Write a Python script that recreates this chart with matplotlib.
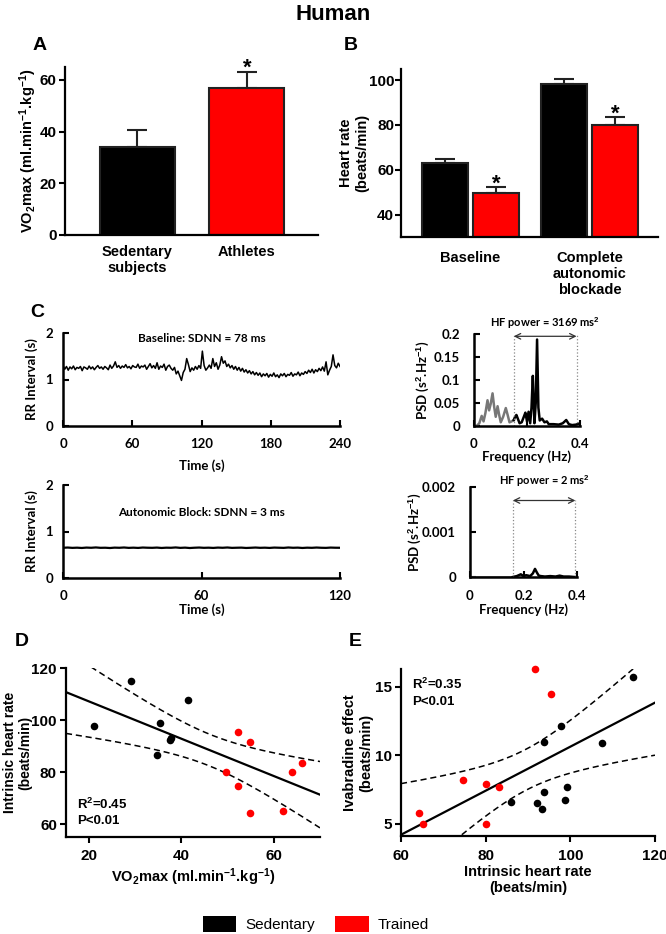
import numpy as np
import matplotlib
matplotlib.use('Agg')
import matplotlib.pyplot as plt
from matplotlib.patches import Patch

# ---------------- data ----------------
title = "Human"
BLACK = "#000000"
RED = "#FF0000"

# Panel A
vo2_groups = ["Sedentary\nsubjects", "Athletes"]
vo2_mean = [34.0, 56.9]
vo2_sem = [6.7, 6.0]
vo2_sig = [False, True]

# Panel B
hr_groups = ["Baseline", "Complete\nautonomic\nblockade"]
hr_sed = [62.9, 98.2]
hr_sed_sem = [1.9, 2.2]
hr_tr = [49.6, 79.8]
hr_tr_sem = [2.9, 3.7]

# Panel C - RR tachograms
base_rr = [
    1.30, 1.22, 1.28, 1.20, 1.27, 1.23, 1.29, 1.21, 1.26, 1.24,
    1.28, 1.19, 1.27, 1.25, 1.22, 1.29, 1.23, 1.27, 1.21, 1.26,
    1.30, 1.24, 1.27, 1.22, 1.28, 1.25, 1.21, 1.31, 1.24, 1.29,
    1.38, 1.26, 1.30, 1.24, 1.29, 1.26, 1.32, 1.25, 1.28, 1.23,
    1.30, 1.27, 1.26, 1.33, 1.24, 1.29, 1.27, 1.31, 1.22, 1.28,
    1.34, 1.25, 1.30, 1.24, 1.36, 1.22, 1.29, 1.26, 1.33, 1.20,
    1.28, 1.31, 1.24, 1.20, 1.26, 1.12, 1.18, 1.08, 0.98, 1.15,
    1.22, 1.45, 1.32, 1.17, 1.25, 1.20, 1.28, 1.22, 1.30, 1.24,
    1.61, 1.30, 1.20, 1.25, 1.31, 1.24, 1.45, 1.28, 1.36, 1.22,
    1.31, 1.49, 1.35, 1.40, 1.28, 1.33, 1.25, 1.30, 1.22, 1.28,
    1.20, 1.26, 1.18, 1.24, 1.16, 1.21, 1.14, 1.19, 1.12, 1.17,
    1.10, 1.15, 1.09, 1.14, 1.06, 1.12, 1.08, 1.13, 1.05, 1.11,
    1.07, 1.14, 1.06, 1.10, 1.04, 1.12, 1.08, 1.13, 1.06, 1.11,
    1.09, 1.15, 1.07, 1.12, 1.10, 1.16, 1.08, 1.14, 1.11, 1.17,
    1.13, 1.20, 1.15, 1.22, 1.14, 1.21, 1.17, 1.24, 1.19, 1.27,
    1.18, 1.38, 1.10, 1.20, 1.28, 1.53, 1.30, 1.25, 1.35, 1.28,
]
base_duration = 240
block_rr = [
    0.650, 0.655, 0.648, 0.652, 0.646, 0.654, 0.650, 0.657, 0.649, 0.651,
    0.645, 0.653, 0.650, 0.656, 0.648, 0.652, 0.647, 0.655, 0.651, 0.649,
    0.654, 0.646, 0.652, 0.650, 0.657, 0.648, 0.653, 0.645, 0.651, 0.655,
    0.649, 0.652, 0.647, 0.654, 0.650, 0.656, 0.648, 0.651, 0.653, 0.646,
    0.650, 0.655, 0.649, 0.652, 0.647, 0.654, 0.651, 0.648, 0.656, 0.650,
    0.653, 0.646, 0.652, 0.649, 0.655, 0.650, 0.648, 0.654, 0.651, 0.650,
]
block_duration = 120
base_text = "Baseline: SDNN = 78 ms"
block_text = "Autonomic Block: SDNN = 3 ms"

# Panel C - power spectra
lf_freq = [0.000, 0.010, 0.020, 0.029, 0.036, 0.043, 0.051, 0.057, 0.063, 0.070,
           0.076, 0.082, 0.089, 0.095, 0.101, 0.110, 0.120, 0.127, 0.134, 0.142, 0.150]
lf_psd = [0.000, 0.000, 0.006, 0.022, 0.010, 0.028, 0.056, 0.034, 0.048, 0.071,
          0.042, 0.020, 0.043, 0.024, 0.008, 0.020, 0.039, 0.024, 0.008, 0.010, 0.013]
hf_freq = [0.150, 0.155, 0.160, 0.166, 0.172, 0.180, 0.188, 0.194, 0.200, 0.206,
           0.212, 0.217, 0.222, 0.228, 0.233, 0.238, 0.243, 0.248, 0.257, 0.266,
           0.275, 0.282, 0.300, 0.320, 0.335, 0.348, 0.358, 0.370, 0.385, 0.400]
hf_psd = [0.013, 0.020, 0.024, 0.015, 0.006, 0.008, 0.020, 0.029, 0.010, 0.031,
          0.006, 0.040, 0.109, 0.006, 0.050, 0.188, 0.040, 0.012, 0.016, 0.008,
          0.010, 0.004, 0.004, 0.003, 0.006, 0.013, 0.004, 0.002, 0.003, 0.006]
lf2_freq = [0.000, 0.160]
lf2_psd = [0.0, 0.0]
hf2_freq = [0.160, 0.175, 0.190, 0.200, 0.210, 0.225, 0.235, 0.243, 0.250, 0.257,
            0.265, 0.280, 0.300, 0.320, 0.335, 0.350, 0.370, 0.390, 0.400]
hf2_psd = [0.0, 0.00002, 0.00006, 0.00002, 0.00004, 0.00002, 0.00008, 0.00018, 0.00010, 0.00003,
           0.00002, 0.00001, 0.00002, 0.00001, 0.00003, 0.00001, 0.00001, 0.0, 0.0]
hf_band_top = (0.150, 0.387)
hf_band_bot = (0.160, 0.394)
hf_text_top = "HF power = 3169 ms$^2$"
hf_text_bot = "HF power = 2 ms$^2$"
psd_top_ticks = [0, 0.05, 0.1, 0.15, 0.2]
psd_top_labels = ["0", "0.05", "0.1", "0.15", "0.2"]
psd_bot_ticks = [0, 0.001, 0.002]
psd_bot_labels = ["0", "0.001", "0.002"]

# Panel D
d_sed_x = [21.1, 29.1, 35.3, 34.8, 37.5, 37.8, 41.4]
d_sed_y = [97.8, 115.1, 98.7, 86.4, 92.2, 93.2, 107.5]
d_tr_x = [52.2, 54.8, 49.6, 52.2, 54.8, 62.0, 64.0, 66.0]
d_tr_y = [95.5, 91.7, 80.1, 74.6, 64.3, 65.0, 80.0, 83.3]
d_stats = "R$^2$=0.45\nP<0.01"

# Panel E
e_sed_x = [114.9, 97.7, 93.8, 107.4, 86.1, 92.2, 93.2, 93.8, 98.7, 99.3]
e_sed_y = [15.7, 12.1, 10.95, 10.9, 6.6, 6.5, 6.1, 7.3, 6.7, 7.7]
e_tr_x = [91.6, 95.4, 74.6, 80.0, 83.1, 64.3, 65.1, 80.0]
e_tr_y = [16.3, 14.45, 8.2, 7.9, 7.7, 5.8, 5.0, 5.0]
e_stats = "R$^2$=0.35\nP<0.01"

legend_labels = ["Sedentary", "Trained"]

# ---------------- style ----------------
plt.rcParams['font.family'] = ['Liberation Sans', 'DejaVu Sans']
plt.rcParams['font.weight'] = 'bold'
plt.rcParams['axes.labelweight'] = 'bold'
plt.rcParams['mathtext.fontset'] = 'custom'
plt.rcParams['mathtext.rm'] = 'Liberation Sans:bold'
plt.rcParams['mathtext.bf'] = 'Liberation Sans:bold'
plt.rcParams['mathtext.it'] = 'Liberation Sans:bold'
plt.rcParams['mathtext.default'] = 'bf'
plt.rcParams['axes.linewidth'] = 1.6

W, H = 666, 934
fig = plt.figure(figsize=(W / 100, H / 100), dpi=100)


def add_ax(x0, x1, y0, y1):
    return fig.add_axes([x0 / W, 1 - y1 / H, (x1 - x0) / W, (y1 - y0) / H])


def prism(ax):
    for s in ['top', 'right']:
        ax.spines[s].set_visible(False)


def label_at(ax, which, fx, fy):
    if which == 'x':
        ax.xaxis.set_label_coords(fx, fy)
        ax.xaxis.label.set_va('center')
    else:
        ax.yaxis.set_label_coords(fx, fy)
        ax.yaxis.label.set_va('center')


fig.text(333 / W, 1 - 14 / H, title, ha='center', va='center', fontsize=16, fontweight='bold')
for letter, (px, py) in zip("ABCDE", [(40, 45), (351, 45), (37, 312), (22, 642), (355, 642)]):
    fig.text(px / W, 1 - py / H, letter, ha='center', va='center', fontsize=14, fontweight='bold')

# ---------------- Panel A ----------------
axA = add_ax(65, 318, 67, 235)
xa = np.arange(len(vo2_groups))
axA.bar(xa, vo2_mean, width=0.685, color=[BLACK, RED], edgecolor='#222222', linewidth=1.5, zorder=2)
axA.errorbar(xa, vo2_mean, yerr=[np.zeros(len(xa)), vo2_sem], fmt='none', ecolor='#222222',
             elinewidth=1.5, capsize=7, capthick=1.5, zorder=1)
for i, sig in enumerate(vo2_sig):
    if sig:
        axA.annotate('*', (xa[i], vo2_mean[i] + vo2_sem[i]), xytext=(0, -1), textcoords='offset points',
                     ha='center', va='baseline', fontsize=16, fontweight='bold', annotation_clip=False)
prism(axA)
axA.set_xlim(-0.66, 1.65)
axA.set_ylim(0, 65)
axA.set_yticks([0, 20, 40, 60])
axA.set_xticks(xa)
axA.set_xticklabels(vo2_groups)
axA.tick_params(axis='y', length=4, width=1.5, pad=2, labelsize=11)
axA.tick_params(axis='x', length=0, pad=7, labelsize=10.5)
axA.set_ylabel("VO$_2$max (ml.min$^{-1}$.kg$^{-1}$)", fontsize=10.5)
label_at(axA, 'y', -0.146, 0.5)

# ---------------- Panel B ----------------
axB = add_ax(401, 658, 69, 237)
xb = np.arange(len(hr_groups))
off = 0.214
bw = 0.385
axB.bar(xb - off, hr_sed, width=bw, color=BLACK, edgecolor='#222222', linewidth=1.5, zorder=2)
axB.bar(xb + off, hr_tr, width=bw, color=RED, edgecolor='#222222', linewidth=1.5, zorder=2)
axB.errorbar(xb - off, hr_sed, yerr=[np.zeros(len(xb)), hr_sed_sem], fmt='none', ecolor='#222222',
             elinewidth=1.5, capsize=7, capthick=1.5, zorder=1)
axB.errorbar(xb + off, hr_tr, yerr=[np.zeros(len(xb)), hr_tr_sem], fmt='none', ecolor='#222222',
             elinewidth=1.5, capsize=7, capthick=1.5, zorder=1)
for i in range(len(xb)):
    axB.annotate('*', (xb[i] + off, hr_tr[i] + hr_tr_sem[i]), xytext=(0, -2), textcoords='offset points',
                 ha='center', va='baseline', fontsize=16, fontweight='bold', annotation_clip=False)
prism(axB)
axB.set_xlim(-0.584, 1.576)
axB.set_ylim(30, 105)
axB.set_yticks([40, 60, 80, 100])
axB.set_xticks(xb)
axB.set_xticklabels(hr_groups)
axB.tick_params(axis='y', length=4, width=1.5, pad=1, labelsize=11)
axB.tick_params(axis='x', length=0, pad=10, labelsize=10.5)
axB.set_ylabel("Heart rate\n(beats/min)", fontsize=10.5)
label_at(axB, 'y', -0.183, 0.5)

# ---------------- Panel C ----------------
CFONT = ['Lato', 'DejaVu Sans']


def style_c(ax, xpad=9, ypad=7):
    prism(ax)
    ax.spines['left'].set_linewidth(1.8)
    ax.spines['bottom'].set_linewidth(1.8)
    ax.tick_params(direction='in', length=4, width=1.5, labelsize=9.5)
    ax.tick_params(axis='x', pad=xpad)
    ax.tick_params(axis='y', pad=ypad)
    for lbl in ax.get_xticklabels() + ax.get_yticklabels():
        lbl.set_fontfamily(CFONT)
        lbl.set_fontweight('bold')


# top RR trace
axC1 = add_ax(63, 340, 333, 426)
t_base = np.linspace(0, base_duration, len(base_rr))
axC1.plot(t_base, base_rr, color='black', lw=1.1)
axC1.set_xlim(0, base_duration)
axC1.set_ylim(0, 2)
axC1.set_xticks([0, 60, 120, 180, 240])
axC1.set_yticks([0, 1, 2])
style_c(axC1)
axC1.text(0.5, 0.946, base_text, transform=axC1.transAxes, ha='center', va='center',
          fontsize=8.5, fontweight='bold', family=CFONT)
axC1.set_xlabel("Time (s)", fontsize=9.5, family=CFONT)
axC1.set_ylabel("RR Interval (s)", fontsize=9.5, family=CFONT)
label_at(axC1, 'x', 0.5, -0.43)
label_at(axC1, 'y', -0.112, 0.5)

# bottom RR trace
axC3 = add_ax(63, 340, 485, 578)
t_block = np.linspace(0, block_duration, len(block_rr))
axC3.plot(t_block, block_rr, color='black', lw=1.6)
axC3.set_xlim(0, block_duration)
axC3.set_ylim(0, 2)
axC3.set_xticks([0, 60, 120])
axC3.set_yticks([0, 1, 2])
style_c(axC3)
axC3.text(0.5, 0.70, block_text, transform=axC3.transAxes, ha='center', va='center',
          fontsize=8.5, fontweight='bold', family=CFONT)
axC3.set_xlabel("Time (s)", fontsize=9.5, family=CFONT)
axC3.set_ylabel("RR Interval (s)", fontsize=9.5, family=CFONT)
label_at(axC3, 'x', 0.5, -0.34)
label_at(axC3, 'y', -0.112, 0.5)

# top PSD
axC2 = add_ax(474, 580, 334, 426)
axC2.plot(lf_freq, lf_psd, color='#777777', lw=1.8)
axC2.plot(hf_freq, hf_psd, color='black', lw=1.8)
axC2.set_xlim(0, 0.4)
axC2.set_ylim(0, 0.2)
axC2.set_xticks([0, 0.2, 0.4])
axC2.set_xticklabels(["0", "0.2", "0.4"])
axC2.set_yticks(psd_top_ticks)
axC2.set_yticklabels(psd_top_labels)
style_c(axC2, xpad=9, ypad=10)
axC2.vlines(hf_band_top, 0, 0.197, colors='#888888', linestyles=':', lw=0.9, clip_on=False)
axC2.annotate('', xy=(hf_band_top[0], 0.195), xytext=(hf_band_top[1], 0.195),
              arrowprops=dict(arrowstyle='<->', lw=0.9, color='#333333', shrinkA=0, shrinkB=0),
              annotation_clip=False)
axC2.text(sum(hf_band_top) / 2, 0.207, hf_text_top, ha='center', va='bottom', fontsize=8,
          fontweight='bold', family=CFONT, clip_on=False)
axC2.set_xlabel("Frequency (Hz)", fontsize=9.5, family=CFONT)
axC2.set_ylabel("PSD (s$^2$.Hz$^{-1}$)", fontsize=9.5, family=CFONT)
label_at(axC2, 'x', 0.5, -0.33)
label_at(axC2, 'y', -0.48, 0.5)

# bottom PSD
axC4 = add_ax(470, 577, 487, 577)
axC4.plot(lf2_freq, lf2_psd, color='#777777', lw=1.8)
axC4.plot(hf2_freq, hf2_psd, color='black', lw=1.8)
axC4.set_xlim(0, 0.4)
axC4.set_ylim(0, 0.002)
axC4.set_xticks([0, 0.2, 0.4])
axC4.set_xticklabels(["0", "0.2", "0.4"])
axC4.set_yticks(psd_bot_ticks)
axC4.set_yticklabels(psd_bot_labels)
style_c(axC4, xpad=9, ypad=10)
axC4.vlines(hf_band_bot, 0, 0.00172, colors='#888888', linestyles=':', lw=0.9, clip_on=False)
axC4.annotate('', xy=(hf_band_bot[0], 0.0017), xytext=(hf_band_bot[1], 0.0017),
              arrowprops=dict(arrowstyle='<->', lw=0.9, color='#333333', shrinkA=0, shrinkB=0),
              annotation_clip=False)
axC4.text(sum(hf_band_bot) / 2, 0.00195, hf_text_bot, ha='center', va='bottom', fontsize=8,
          fontweight='bold', family=CFONT, clip_on=False)
axC4.set_xlabel("Frequency (Hz)", fontsize=9.5, family=CFONT)
axC4.set_ylabel("PSD (s$^2$.Hz$^{-1}$)", fontsize=9.5, family=CFONT)
label_at(axC4, 'x', 0.5, -0.36)
label_at(axC4, 'y', -0.517, 0.5)


# ---------------- regression helper ----------------
def fit_ci(x, y, tval, xs):
    x = np.asarray(x, float)
    y = np.asarray(y, float)
    b, a = np.polyfit(x, y, 1)
    n = len(x)
    s = np.sqrt(np.sum((y - (a + b * x)) ** 2) / (n - 2))
    sxx = np.sum((x - x.mean()) ** 2)
    fv = a + b * xs
    half = tval * s * np.sqrt(1.0 / n + (xs - x.mean()) ** 2 / sxx)
    return fv, fv - half, fv + half


# ---------------- Panel D ----------------
axD = add_ax(66, 320, 668, 837)
axD.set_xlim(15, 70)
axD.set_ylim(55, 120)
dx_all = d_sed_x + d_tr_x
dy_all = d_sed_y + d_tr_y
xs = np.linspace(15, 70, 200)
fv, lo, hi = fit_ci(dx_all, dy_all, 2.160, xs)
axD.plot(xs, fv, color='black', lw=1.6, zorder=2)
axD.plot(xs, lo, color='black', lw=1.1, ls=(0, (4, 2.5)), zorder=2)
axD.plot(xs, hi, color='black', lw=1.1, ls=(0, (4, 2.5)), zorder=2)
axD.scatter(d_sed_x, d_sed_y, s=30, color=BLACK, zorder=3, linewidths=0)
axD.scatter(d_tr_x, d_tr_y, s=30, color=RED, zorder=3, linewidths=0)
prism(axD)
axD.set_xticks([20, 40, 60])
axD.set_yticks([60, 80, 100, 120])
axD.tick_params(length=4.5, width=1.5, labelsize=11)
axD.tick_params(axis='x', pad=4.5)
axD.tick_params(axis='y', pad=2)
axD.text(0.045, 0.15, d_stats, transform=axD.transAxes, ha='left', va='center', fontsize=9.5,
         fontweight='bold', linespacing=1.35)
axD.set_xlabel("VO$_2$max (ml.min$^{-1}$.kg$^{-1}$)", fontsize=10.5)
axD.set_ylabel("Intrinsic heart rate\n(beats/min)", fontsize=10, linespacing=1.1)
label_at(axD, 'x', 0.5, -0.237)
label_at(axD, 'y', -0.19, 0.5)

# ---------------- Panel E ----------------
axE = add_ax(401, 655, 669, 836)
axE.set_xlim(60, 120)
axE.set_ylim(4.1, 16.3)
ex_all = e_sed_x + e_tr_x
ey_all = e_sed_y + e_tr_y
xs = np.linspace(60, 120, 200)
fv, lo, hi = fit_ci(ex_all, ey_all, 2.120, xs)
axE.plot(xs, fv, color='black', lw=1.6, zorder=2)
axE.plot(xs, lo, color='black', lw=1.1, ls=(0, (4, 2.5)), zorder=2)
axE.plot(xs, hi, color='black', lw=1.1, ls=(0, (4, 2.5)), zorder=2)
axE.scatter(e_sed_x, e_sed_y, s=30, color=BLACK, zorder=3, linewidths=0, clip_on=False)
axE.scatter(e_tr_x, e_tr_y, s=30, color=RED, zorder=3, linewidths=0, clip_on=False)
prism(axE)
axE.set_xticks([60, 80, 100, 120])
axE.set_yticks([5, 10, 15])
axE.tick_params(length=4.5, width=1.5, labelsize=11)
axE.tick_params(axis='x', pad=4.5)
axE.tick_params(axis='y', pad=2)
axE.text(0.045, 0.86, e_stats, transform=axE.transAxes, ha='left', va='center', fontsize=9.5,
         fontweight='bold', linespacing=1.35)
axE.set_xlabel("Intrinsic heart rate\n(beats/min)", fontsize=10.5)
axE.set_ylabel("Ivabradine effect\n(beats/min)", fontsize=10.5)
label_at(axE, 'x', 0.5, -0.263)
label_at(axE, 'y', -0.169, 0.5)

# ---------------- legend ----------------
handles = [Patch(facecolor=BLACK, edgecolor='none'), Patch(facecolor=RED, edgecolor='none')]
fig.legend(handles, legend_labels, loc='center', bbox_to_anchor=(316 / W, 1 - 924 / H), ncol=2,
           frameon=False, prop={'family': 'Liberation Sans', 'weight': 'normal', 'size': 11},
           handlelength=2.2, handleheight=1.2, handletextpad=0.6, columnspacing=1.3)

fig.savefig("out.png", dpi=100)
